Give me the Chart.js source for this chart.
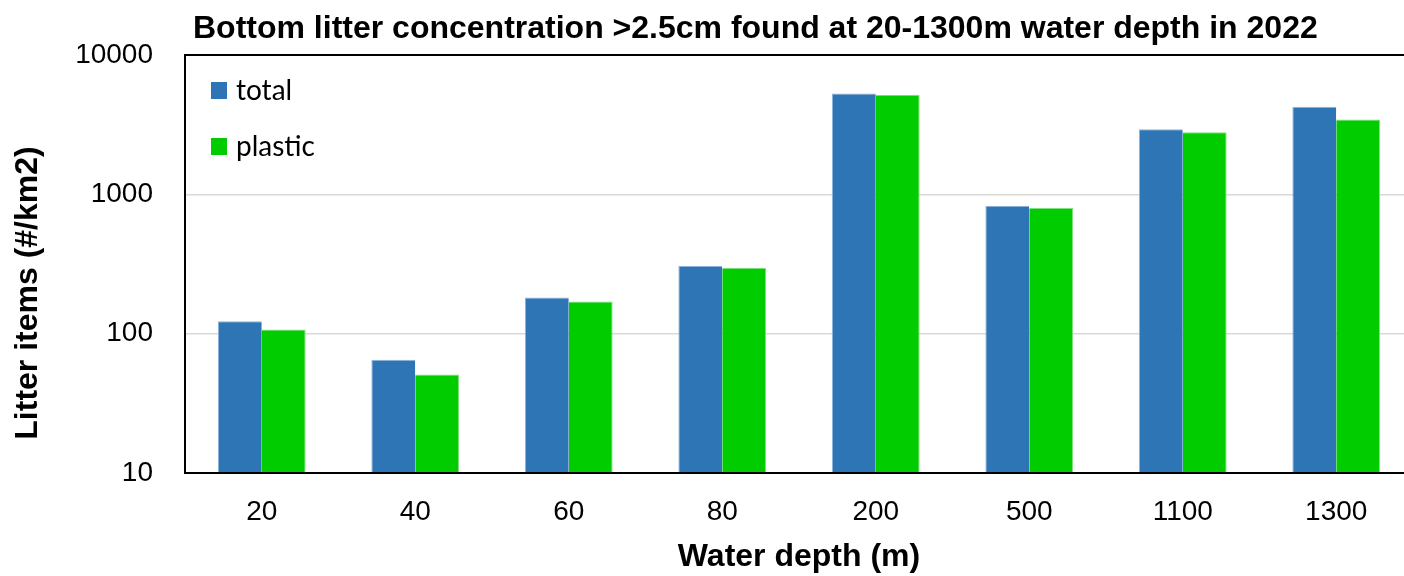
<!DOCTYPE html>
<html>
<head>
<meta charset="utf-8">
<title>Bottom litter concentration</title>
<script src="https://cdn.jsdelivr.net/npm/chart.js@4.4.0/dist/chart.umd.min.js"></script>
<style>
  html, body { margin: 0; padding: 0; background: #fff; overflow: hidden; }
  #wrap { width: 1404px; height: 576px; overflow: hidden; }
</style>
</head>
<body>
<div id="wrap"><canvas id="litterChart" width="1416" height="576"></canvas></div>
<script>
// Water depth categories (m)
const depths = ['20', '40', '60', '80', '200', '500', '1100', '1300'];
// Litter items per km2
const totalItems = [123, 65, 182, 306, 5300, 829, 2930, 4260];
const plasticItems = [107, 51, 170, 297, 5190, 798, 2790, 3450];
// Decade ticks on the log axis
const yTicks = [10, 100, 1000, 10000];

const titleText = 'Bottom litter concentration >2.5cm found at 20-1300m water depth in 2022';
const yTitleText = 'Litter items (#/km2)';
const legendFont = 'Lato, "Open Sans", sans-serif';
const sansFont = '"Liberation Sans", Arial, sans-serif';

// Title, y-axis title, frame and in-plot legend
const decorations = {
    id: 'decorations',
    afterDraw(chart) {
        const ctx = chart.ctx;
        const a = chart.chartArea;
        ctx.save();

        // frame around the plot
        ctx.strokeStyle = '#000';
        ctx.lineWidth = 2;
        ctx.strokeRect(a.left, a.top, a.right - a.left, a.bottom - a.top);

        // chart title
        ctx.fillStyle = '#000';
        ctx.font = 'bold 32px ' + sansFont;
        ctx.textBaseline = 'alphabetic';
        ctx.textAlign = 'left';
        ctx.fillText(titleText, a.left + 8, 38);

        // y-axis title, sits a little below the plot middle
        ctx.save();
        ctx.translate(28, 293);
        ctx.rotate(-Math.PI / 2);
        ctx.textAlign = 'center';
        ctx.textBaseline = 'middle';
        ctx.fillText(yTitleText, 0, 0);
        ctx.restore();

        // legend
        ctx.font = '28px ' + legendFont;
        ctx.textBaseline = 'middle';
        ctx.textAlign = 'left';
        chart.data.datasets.forEach(function(ds, i) {
            const y = a.top + 36 + i * 56;
            ctx.fillStyle = ds.backgroundColor;
            ctx.fillRect(a.left + 26, y - 9, 16, 17);
            ctx.fillStyle = '#000';
            ctx.fillText(ds.label, a.left + 51, y);
        });
        ctx.restore();
    }
};

const ctx = document.getElementById('litterChart').getContext('2d');
new Chart(ctx, {
    type: 'bar',
    data: {
        labels: depths,
        datasets: [{
            label: 'total',
            data: totalItems,
            backgroundColor: '#2E75B6',
            borderColor: '#8fb4da',
            borderWidth: { top: 1, left: 1, right: 0, bottom: 0 },
            borderSkipped: 'bottom'
        }, {
            label: 'plastic',
            data: plasticItems,
            backgroundColor: '#00CC00',
            borderColor: '#7fe07f',
            borderWidth: { top: 1, left: 0, right: 1, bottom: 0 },
            borderSkipped: 'bottom'
        }]
    },
    options: {
        responsive: false,
        animation: false,
        layout: { padding: { top: 55, right: 3, left: 0, bottom: 0 } },
        plugins: {
            legend: { display: false },
            title: { display: false },
            tooltip: { enabled: false }
        },
        datasets: {
            bar: { categoryPercentage: 0.572, barPercentage: 1.0 }
        },
        scales: {
            x: {
                grid: { display: false, drawTicks: false },
                border: { display: false },
                ticks: {
                    color: '#000',
                    padding: 22,
                    font: { family: sansFont, size: 28 }
                },
                title: {
                    display: true,
                    text: 'Water depth (m)',
                    color: '#000',
                    font: { family: sansFont, size: 32, weight: 'bold' },
                    padding: { top: 1, bottom: 0 }
                },
                afterFit(scale) { scale.height = 103; }
            },
            y: {
                type: 'logarithmic',
                min: 10,
                max: 10000,
                afterBuildTicks(scale) {
                    scale.ticks = yTicks.map(v => ({ value: v }));
                },
                grid: { color: '#d9d9d9', lineWidth: 1.5, drawTicks: false },
                border: { display: false },
                ticks: {
                    color: '#000',
                    padding: 32,
                    font: { family: sansFont, size: 28 },
                    callback: v => String(v)
                },
                afterFit(scale) { scale.width = 185; }
            }
        }
    },
    plugins: [decorations]
});
</script>
</body>
</html>
